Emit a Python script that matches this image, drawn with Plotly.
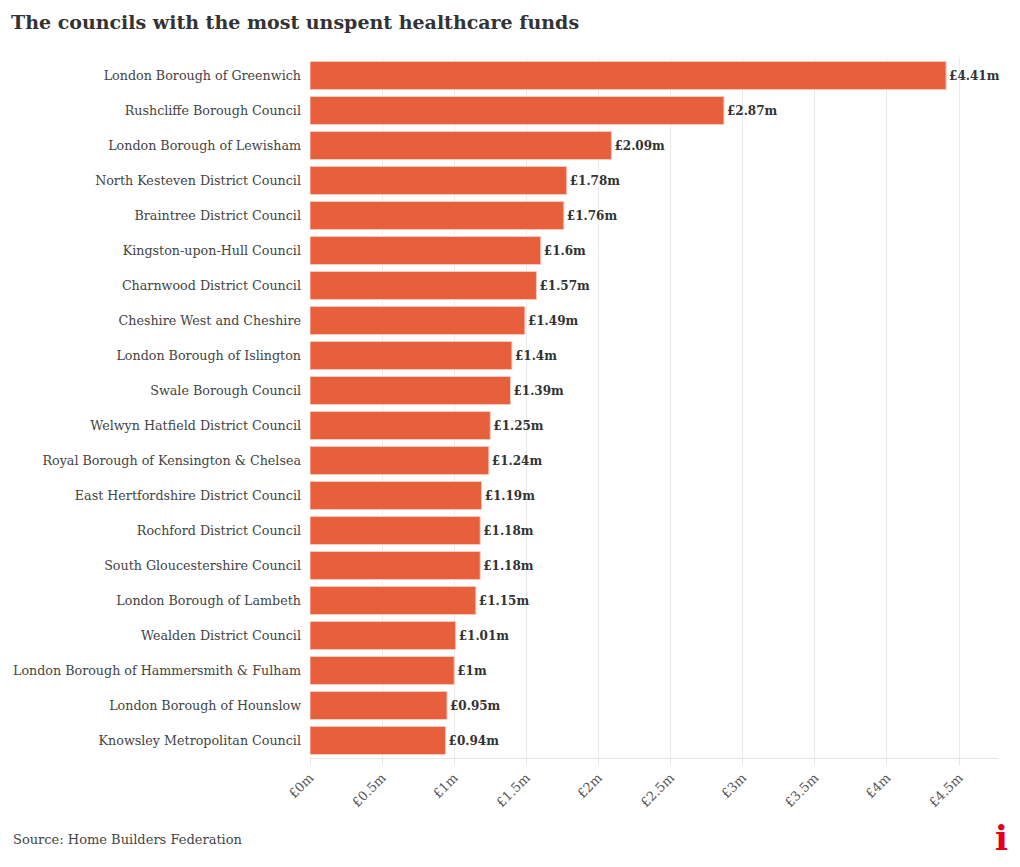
import plotly.graph_objects as go

councils = [
    "London Borough of Greenwich",
    "Rushcliffe Borough Council",
    "London Borough of Lewisham",
    "North Kesteven District Council",
    "Braintree District Council",
    "Kingston-upon-Hull Council",
    "Charnwood District Council",
    "Cheshire West and Cheshire",
    "London Borough of Islington",
    "Swale Borough Council",
    "Welwyn Hatfield District Council",
    "Royal Borough of Kensington & Chelsea",
    "East Hertfordshire District Council",
    "Rochford District Council",
    "South Gloucestershire Council",
    "London Borough of Lambeth",
    "Wealden District Council",
    "London Borough of Hammersmith & Fulham",
    "London Borough of Hounslow",
    "Knowsley Metropolitan Council",
]
values = [4.41, 2.87, 2.09, 1.78, 1.76, 1.6, 1.57, 1.49, 1.4, 1.39,
          1.25, 1.24, 1.19, 1.18, 1.18, 1.15, 1.01, 1.0, 0.95, 0.94]
value_labels = ["£" + (f"{v:.2f}".rstrip("0").rstrip(".")) + "m" for v in values]
tick_vals = [0, 0.5, 1, 1.5, 2, 2.5, 3, 3.5, 4, 4.5]
tick_text = ["£0m", "£0.5m", "£1m", "£1.5m", "£2m", "£2.5m", "£3m", "£3.5m", "£4m", "£4.5m"]

SERIF = "DejaVu Serif"
BAR = "#E85F3C"

L, R, T, B = 302, 30, 50, 117
PW = 1020 - L - R
PH = 867 - T - B

fig = go.Figure(go.Bar(
    x=values, y=councils, orientation="h",
    marker=dict(color=BAR, line=dict(color="#F7C9BB", width=1)),
    text=["<b>" + t + "</b>" for t in value_labels],
    textposition="outside", cliponaxis=False,
    textfont=dict(family=SERIF, size=12, color="#333333"),
    hoverinfo="skip",
))

fig.update_layout(
    width=1020, height=867,
    paper_bgcolor="white", plot_bgcolor="white",
    margin=dict(l=L, r=R, t=T, b=B, autoexpand=False),
    bargap=0.2,
    showlegend=False,
    font=dict(family=SERIF, color="#444444"),
    title=dict(text="<b>The councils with the most unspent healthcare funds</b>",
               x=3/1020, xanchor="left", y=1 - 14/867, yanchor="middle",
               font=dict(family=SERIF, size=19, color="#333333")),
)
fig.update_xaxes(
    range=[0, 4.77], tickvals=tick_vals, ticktext=tick_text,
    tickangle=-45, showgrid=True, gridcolor="#EBEBEB", gridwidth=1,
    zeroline=False, showline=True, linecolor="#E5E5E5",
    ticks="outside", ticklen=6, tickcolor="#E5E5E5",
    tickfont=dict(family=SERIF, size=13, color="#555555"),
    automargin=False,
)
fig.update_yaxes(
    autorange="reversed", showgrid=False, zeroline=False,
    ticks="", tickfont=dict(family=SERIF, size=12.7, color="#444444"),
    ticklabelstandoff=8, automargin=False,
)
fig.add_annotation(text="Source: Home Builders Federation", xref="paper", yref="paper",
                   x=(3 - L) / PW, y=-(831 - (T + PH)) / PH, xanchor="left", yanchor="middle",
                   showarrow=False, font=dict(family=SERIF, size=13, color="#444444"))
fig.add_annotation(text="<b>i</b>", xref="paper", yref="paper",
                   x=1.0, xshift=12, y=-(830 - (T + PH)) / PH, xanchor="right", yanchor="middle",
                   showarrow=False, font=dict(family=SERIF, size=34, color="#E0001B"))

fig.write_html("out.html")
